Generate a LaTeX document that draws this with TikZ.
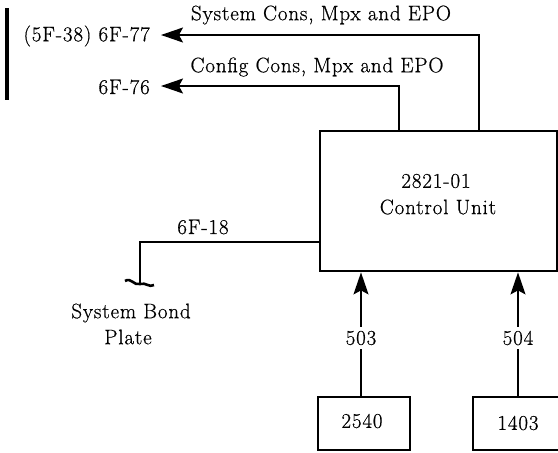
\documentclass[tikz,border=0pt]{standalone}
\usepackage{fontspec}
\setmainfont{Latin Modern Roman}[LetterSpace=4, FakeBold=0.6]
\usetikzlibrary{arrows.meta}
\tikzset{
  lbl/.style={inner sep=0pt, font=\fontsize{21}{24}\selectfont},
  thickbox/.style={draw, line width=2.8pt, inner sep=0pt},
  wire/.style={line width=1.4pt},
  arr/.style={wire, -{Stealth[length=22pt, width=15pt, inset=4pt]}}
}
\begin{document}
\begin{tikzpicture}[x=1pt, y=-1pt]
\useasboundingbox (0,0) rectangle (558,453);
% main control unit box
\node[thickbox, minimum width=237pt, minimum height=140pt] (cu) at (438.5,201) {};
\node[lbl] (cut1) at (436,181) {2821-01};
\node[lbl] (cut2) at (438,207) {Control Unit};
% small boxes
\node[thickbox, minimum width=92pt, minimum height=53pt] (b2540) at (364,423.5) {};
\node[lbl] (t2540) at (362,421) {2540};
\node[thickbox, minimum width=86pt, minimum height=53pt] (b1403) at (516,423.5) {};
\node[lbl] (t1403) at (518,423) {1403};
% left labels
\draw[line width=3.5pt] (7,8) -- (7,100);
\node[lbl, anchor=east] (l77) at (150,36) {(5F-38) 6F-77};
\node[lbl, anchor=east] (l76) at (150,87) {6F-76};
\coordinate (c77) at (479,35);
\coordinate (c76) at (399,86);
\draw[arr] (c77 |- cu.north) -- (c77) -- (161,35);
\draw[arr] (c76 |- cu.north) -- (c76) -- (161,86);
\node[lbl] (sys) at (321,15) {System Cons, Mpx and EPO};
\node[lbl] (cfg) at (317,67) {Config Cons, Mpx and EPO};
% bond plate
\coordinate (bp) at (140,242);
\coordinate (bpe) at (140,283);
\draw[wire] (cu.west |- bp) -- (bp) -- (bpe);
\draw[line width=2.6pt] (125,281) .. controls (131,277) and (134,286) .. (140,284) .. controls (146,282) and (149,288) .. (154,285);
\node[lbl] (l18) at (203,227) {6F-18};
\node[lbl] (sbp1) at (131,313) {System Bond};
\node[lbl] (sbp2) at (128,337) {Plate};
% input arrows
\node[lbl] (n503) at (361,338) {503};
\node[lbl] (n504) at (518,338) {504};
\draw[wire] (b2540.north -| n503) -- ([yshift=-4pt]n503.south);
\draw[arr] ([yshift=4pt]n503.north) -- (n503 |- cu.south);
\draw[wire] (b1403.north -| n504) -- ([yshift=-4pt]n504.south);
\draw[arr] ([yshift=4pt]n504.north) -- (n504 |- cu.south);
\end{tikzpicture}
\end{document}
